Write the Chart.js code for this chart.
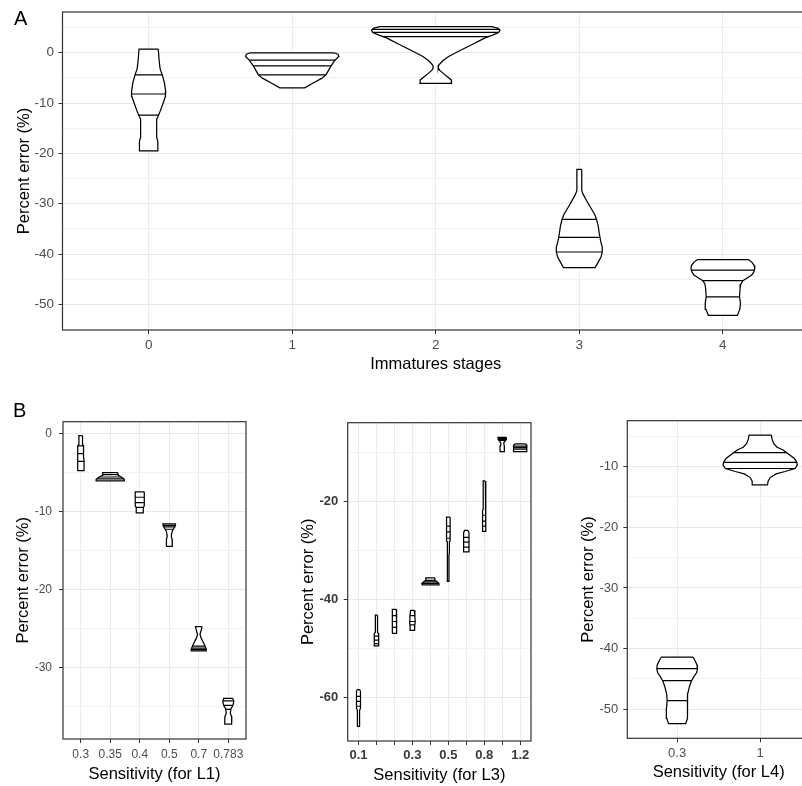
<!DOCTYPE html>
<html>
<head>
<meta charset="utf-8">
<script src="https://cdn.jsdelivr.net/npm/chart.js@4.4.0/dist/chart.umd.min.js"></script>
<style>
  html, body { margin: 0; padding: 0; background: #fff; overflow: hidden; width: 802px; height: 786px; }
  canvas { position: absolute; }
  .tag { position: absolute; font-family: 'Liberation Sans', Arial, sans-serif; font-size: 20px; line-height: 1; color: #000; }
</style>
</head>
<body>
<canvas id="chart-a" width="820" height="378" style="left:0;top:0"></canvas>
<canvas id="chart-b1" width="262" height="406" style="left:0;top:380px"></canvas>
<canvas id="chart-b2" width="262" height="406" style="left:280px;top:380px"></canvas>
<canvas id="chart-b3" width="262" height="406" style="left:560px;top:380px"></canvas>
<div class="tag" style="left:14px;top:8px">A</div>
<div class="tag" style="left:13px;top:400px">B</div>
<script>
// Violin panels: percent error vs stage / sensitivity

const FONT = "'Liberation Sans', Arial, sans-serif";

// ── Data ──────────────────────────────────────────────────────────────
// Each violin is a list of [percent error, half width in category units]
// from top to bottom; quantiles are the 25/50/75 lines.

// Panel A: immature stages
const stageLabels = ['0', '1', '2', '3', '4'];
const stage0 = [[0.74, .067], [-1.5, .073], [-3.2, .080], [-4.4, .095], [-6.0, .110], [-7.7, .119],
    [-8.7, .117], [-10.0, .101], [-11.5, .082], [-12.6, .066], [-13.2, .056], [-16.8, .056],
    [-17.6, .064], [-19.5, .064]];
const stage1 = [[0.0, .292], [-0.3, .319], [-0.7, .325], [-1.0, .316], [-1.45, .299], [-2.0, .285],
    [-2.6, .271], [-3.5, .253], [-4.4, .236], [-5.1, .205], [-6.0, .146], [-6.96, .087]];
const stage2 = [[5.2, .389], [4.9, .431], [4.5, .448], [4.0, .438], [3.5, .396], [3.0, .347],
    [2.5, .313], [1.7, .257], [0.9, .201], [0.0, .139], [-0.8, .087], [-1.6, .049], [-2.45, .021],
    [-3.0, .017], [-3.5, .028], [-4.1, .052], [-4.8, .083], [-5.4, .108], [-6.1, .110]];
const stage3 = [[-23.2, .017], [-27.4, .017], [-28.2, .028], [-29.3, .049], [-30.3, .069], [-31.3, .090],
    [-32.2, .108], [-33.1, .120], [-34.5, .132], [-35.9, .139], [-37.5, .149], [-38.6, .160],
    [-39.6, .160], [-40.6, .151], [-41.8, .128], [-42.7, .110]];
const stage4 = [[-41.1, .177], [-41.6, .201], [-42.3, .219], [-43.0, .222], [-43.6, .215], [-44.2, .201],
    [-44.8, .167], [-45.3, .139], [-46.0, .125], [-46.8, .120], [-48.5, .116], [-49.8, .123],
    [-51.0, .118], [-52.2, .101]];
const stageQuantiles = [[-4.4, -8.2, -12.4], [-1.45, -2.6, -4.4], [4.65, 4.05, 3.2],
    [-33.1, -36.7, -39.6], [-43.2, -45.3, -48.5]];
const stageYMajor = [0, -10, -20, -30, -40, -50];
const stageYMinor = [5, -5, -15, -25, -35, -45];

// Panel B, left: sensitivity for L1
const l1Labels = ['0.3', '0.35', '0.4', '0.5', '0.7', '0.783'];
const l1a = [[-0.3, .061], [-1.4, .061], [-1.6, .096], [-3.0, .096], [-3.5, .113], [-4.8, .113]];
const l1b = [[-5.05, .256], [-5.4, .273], [-5.6, .375], [-5.9, .478], [-6.1, .478]];
const l1c = [[-7.5, .154], [-9.3, .154], [-9.5, .119], [-10.2, .119]];
const l1d = [[-11.6, .215], [-11.9, .205], [-12.2, .154], [-12.6, .096], [-13.2, .068], [-13.6, .096], [-14.5, .102]];
const l1e = [[-24.8, .113], [-25.2, .085], [-25.8, .041], [-26.3, .085], [-26.8, .154], [-27.3, .215],
    [-27.7, .256], [-27.9, .249]];
const l1f = [[-34.0, .154], [-34.4, .188], [-34.9, .154], [-35.3, .092], [-35.9, .068], [-36.4, .119], [-37.3, .113]];
const l1Quantiles = [[-1.6, -2.6, -3.6], [-5.3, -5.6, -5.85], [-8.2, -8.9, -9.5],
    [-11.8, -12.0, -12.3], [-27.3, -27.55, -27.75], [-34.3, -34.9, -35.4]];
const l1YMajor = [0, -10, -20, -30];
const l1YMinor = [-5, -15, -25, -35];

// Panel B, middle: sensitivity for L3
const l3Labels = ['0.1', '', '', '0.3', '', '0.5', '', '0.8', '', '1.2'];
const l3a = [[-58.4, .067], [-58.8, .111], [-62.3, .111], [-62.6, .06], [-65.9, .06]];
const l3b = [[-43.2, .06], [-46.7, .06], [-47.0, .122], [-49.5, .122]];
const l3c = [[-42.0, .110], [-42.4, .122], [-46.9, .122]];
const l3d = [[-42.2, .100], [-43.5, .139], [-44.5, .156], [-45.5, .128], [-46.3, .122]];
const l3e = [[-35.6, .250], [-36.0, .250], [-36.3, .333], [-36.7, .472], [-37.0, .483]];
const l3f = [[-23.2, .100], [-28.0, .100], [-28.3, .06], [-30.5, .06], [-31.0, .035], [-36.3, .035]];
const l3g = [[-25.9, .100], [-26.4, .150], [-30.3, .150]];
const l3h = [[-15.8, .06], [-21.6, .06], [-21.8, .094], [-26.1, .094]];
const l3i = [[-6.9, .233], [-7.3, .233], [-7.6, .167], [-8.0, .083], [-8.6, .111], [-9.2, .128], [-9.8, .111]];
const l3j = [[-8.2, .278], [-8.5, .372], [-9.7, .372], [-9.8, .350]];
const l3Quantiles = [[-59.8, -60.8, -61.8], [-47.5, -48.3, -49.0], [-43.3, -44.5, -45.7],
    [-43.3, -44.5, -45.2], [-36.1, -36.4, -36.7], [-25.0, -26.2, -27.5], [-27.3, -28.3, -29.3],
    [-22.8, -24.0, -25.0], [-7.1, -7.3, -7.5], [-8.7, -9.0, -9.3]];
const l3YMajor = [-20, -40, -60];
const l3YMinor = [-10, -30, -50];

// Panel B, right: sensitivity for L4
const l4Labels = ['0.3', '1'];
const l4a = [[-41.4, .190], [-42.0, .216], [-42.7, .240], [-43.4, .244], [-44.0, .234], [-44.6, .204],
    [-45.3, .174], [-46.2, .150], [-47.5, .126], [-48.6, .120], [-50.1, .130], [-51.5, .124], [-52.4, .104]];
const l4b = [[-4.8, .134], [-5.5, .144], [-6.2, .164], [-6.8, .204], [-7.25, .276], [-7.7, .320],
    [-8.6, .408], [-9.2, .438], [-9.7, .448], [-10.3, .420], [-10.8, .300], [-11.2, .192],
    [-11.8, .120], [-12.4, .096], [-13.0, .088]];
const l4Quantiles = [[-43.3, -45.3, -48.6], [-7.7, -9.3, -10.3]];
const l4YMajor = [-10, -20, -30, -40, -50];
const l4YMinor = [-5, -15, -25, -35, -45];

// ── Violins as line datasets ──────────────────────────────────────────

function widthAt(shape, value) {
    for (let k = 0; k < shape.length - 1; k++) {
        const [v0, w0] = shape[k];
        const [v1, w1] = shape[k + 1];
        if (value <= v0 && value >= v1) {
            return w0 + (w1 - w0) * (v0 - value) / (v0 - v1);
        }
    }
    return 0;
}

function violinDatasets(shapes, quantiles) {
    const sets = [];
    shapes.forEach((shape, i) => {
        const right = shape.map(([v, w]) => ({ x: i + w, y: v }));
        const left = shape.slice().reverse().map(([v, w]) => ({ x: i - w, y: v }));
        const outline = right.concat(left);
        outline.push(outline[0]);
        sets.push({
            data: outline, fill: 'shape', backgroundColor: '#ffffff',
            borderColor: '#000', borderWidth: 1.25, pointRadius: 0, tension: 0,
        });
        quantiles[i].forEach(q => {
            const w = widthAt(shape, q);
            sets.push({
                data: [{ x: i - w, y: q }, { x: i + w, y: q }], fill: false,
                borderColor: '#000', borderWidth: 1.2, pointRadius: 0,
            });
        });
    });
    return sets;
}

const panelBorder = {
    id: 'panelBorder',
    afterDraw(chart) {
        const { ctx, chartArea: a } = chart;
        ctx.save();
        ctx.strokeStyle = '#333';
        ctx.lineWidth = 1.2;
        ctx.strokeRect(a.left, a.top, a.right - a.left, a.bottom - a.top);
        ctx.restore();
    }
};

function makePanel(id, cfg) {
    const major = new Set(cfg.yMajor);
    const isMajor = (c) => c.tick && major.has(c.tick.value);
    new Chart(document.getElementById(id), {
        type: 'line',
        data: { datasets: violinDatasets(cfg.shapes, cfg.quantiles) },
        plugins: [panelBorder],
        options: {
            responsive: false,
            animation: false,
            events: [],
            layout: { padding: { top: cfg.top, right: cfg.right, left: 0, bottom: 0 } },
            plugins: {
                legend: { display: false },
                tooltip: { enabled: false },
                filler: { drawTime: 'beforeDatasetsDraw' },
            },
            scales: {
                x: {
                    type: 'linear',
                    min: -0.6,
                    max: cfg.labels.length - 0.4,
                    afterBuildTicks: s => { s.ticks = cfg.labels.map((_, i) => ({ value: i })); },
                    afterFit: s => { s.height = cfg.xHeight; s.paddingLeft = 0; s.paddingRight = 0; },
                    ticks: {
                        callback: v => cfg.labels[Math.round(v)],
                        autoSkip: false, maxRotation: 0, minRotation: 0,
                        padding: cfg.xPad,
                        color: cfg.tickColor || '#4d4d4d',
                        font: { family: FONT, size: cfg.tickSize, weight: cfg.tickWeight || 'normal' },
                    },
                    grid: { color: '#ebebeb', lineWidth: 1, tickLength: 4, tickColor: '#333', tickWidth: 1 },
                    border: { display: false },
                    title: {
                        display: true, text: cfg.xTitle, color: '#000',
                        font: { family: FONT, size: 16.5 },
                        padding: { top: 0, bottom: cfg.xTitlePad },
                    },
                },
                y: {
                    type: 'linear',
                    min: cfg.yMin,
                    max: cfg.yMax,
                    afterBuildTicks: s => {
                        s.ticks = cfg.yMajor.concat(cfg.yMinor).sort((a, b) => a - b).map(v => ({ value: v }));
                    },
                    afterFit: s => { s.width = cfg.yWidth; s.paddingTop = 0; s.paddingBottom = 0; },
                    ticks: {
                        callback: v => major.has(v) ? String(v) : '',
                        autoSkip: false,
                        padding: cfg.yPad,
                        color: cfg.tickColor || '#4d4d4d',
                        font: { family: FONT, size: cfg.tickSize, weight: cfg.tickWeight || 'normal' },
                    },
                    grid: {
                        color: c => isMajor(c) ? '#e8e8e8' : '#f2f2f2',
                        lineWidth: 1,
                        tickLength: 4,
                        tickWidth: 1,
                        tickColor: c => isMajor(c) ? '#333' : 'rgba(0,0,0,0)',
                    },
                    border: { display: false },
                    title: {
                        display: true, text: 'Percent error (%)', color: '#000',
                        font: { family: FONT, size: 16.5 },
                        padding: { top: cfg.yTitlePad, bottom: 0 },
                    },
                },
            },
        },
    });
}

// ── Init ──────────────────────────────────────────────────────────────

makePanel('chart-a', {
    labels: stageLabels, shapes: [stage0, stage1, stage2, stage3, stage4], quantiles: stageQuantiles,
    yMajor: stageYMajor, yMinor: stageYMinor, yMin: -55.1, yMax: 8.1,
    top: 12, right: 11, xHeight: 48, yWidth: 62.5, xPad: 3, yPad: 4.5,
    tickSize: 13.5, xTitle: 'Immatures stages', xTitlePad: 4, yTitlePad: 15,
});

makePanel('chart-b1', {
    labels: l1Labels, shapes: [l1a, l1b, l1c, l1d, l1e, l1f], quantiles: l1Quantiles,
    yMajor: l1YMajor, yMinor: l1YMinor, yMin: -39.2, yMax: 1.49,
    top: 41.7, right: 16, xHeight: 47, yWidth: 63, xPad: 4, yPad: 7,
    tickSize: 12, xTitle: 'Sensitivity (for L1)', xTitlePad: 2, yTitlePad: 13.6,
});

makePanel('chart-b2', {
    labels: l3Labels, shapes: [l3a, l3b, l3c, l3d, l3e, l3f, l3g, l3h, l3i, l3j], quantiles: l3Quantiles,
    yMajor: l3YMajor, yMinor: l3YMinor, yMin: -68.9, yMax: -3.9,
    top: 42.7, right: 11, xHeight: 45, yWidth: 67.7, xPad: 3, yPad: 5.4,
    tickSize: 13, tickWeight: 'bold', tickColor: '#3a3a3a',
    xTitle: 'Sensitivity (for L3)', xTitlePad: 1, yTitlePad: 18.4,
});

makePanel('chart-b3', {
    labels: l4Labels, shapes: [l4a, l4b], quantiles: l4Quantiles,
    yMajor: l4YMajor, yMinor: l4YMinor, yMin: -54.8, yMax: -2.42,
    top: 40.7, right: 12, xHeight: 47.7, yWidth: 67.3, xPad: 3, yPad: 5,
    tickSize: 13, xTitle: 'Sensitivity (for L4)', xTitlePad: 3.5, yTitlePad: 18.4,
});
</script>
</body>
</html>
